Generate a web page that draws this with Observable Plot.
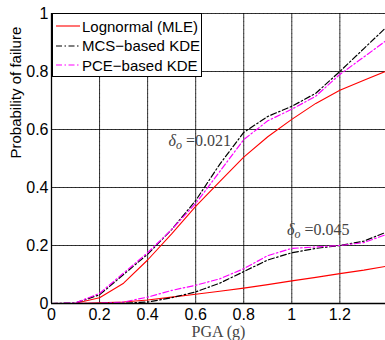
<!DOCTYPE html>
<html><head><meta charset="utf-8">
<script src="https://cdn.jsdelivr.net/npm/d3@7"></script>
<script src="https://cdn.jsdelivr.net/npm/@observablehq/plot@0.6"></script>
<style>
body{margin:0;background:#fff;}
#wrap{position:relative;width:385px;height:340px;}
#legend{position:absolute;left:52px;top:13px;width:150px;height:64px;border:1.4px solid #000;background:#fff;box-sizing:border-box;font:15px "Liberation Sans",Arial,sans-serif;color:#000;}
#legend .row{position:absolute;left:3px;height:18px;display:flex;align-items:center;white-space:nowrap;}
#legend svg{margin-right:2px;}
</style></head>
<body><div id="wrap"><div id="chart"></div><div id="legend"></div></div>
<script>
const pga = [0, 0.1, 0.2, 0.3, 0.4, 0.5, 0.6, 0.7, 0.8, 0.9, 1.0, 1.1, 1.2, 1.3, 1.39];
// delta_o = 0.021
const lognormalA = [0, 0.001, 0.02, 0.07, 0.15, 0.24, 0.335, 0.42, 0.505, 0.575, 0.635, 0.69, 0.735, 0.77, 0.80];
const mcsA = [0, 0.002, 0.03, 0.10, 0.17, 0.255, 0.355, 0.48, 0.59, 0.645, 0.68, 0.725, 0.80, 0.879, 0.95];
const pceA = [0, 0.002, 0.035, 0.105, 0.175, 0.255, 0.345, 0.455, 0.565, 0.63, 0.67, 0.715, 0.79, 0.85, 0.905];
// delta_o = 0.045
const lognormalB = [0, 0, 0.002, 0.005, 0.012, 0.022, 0.032, 0.042, 0.053, 0.065, 0.078, 0.09, 0.103, 0.115, 0.128];
const mcsB = [0, 0, 0, 0.001, 0.005, 0.02, 0.04, 0.07, 0.11, 0.15, 0.175, 0.19, 0.2, 0.215, 0.245];
const pceB = [0, 0, 0.001, 0.005, 0.022, 0.045, 0.063, 0.085, 0.12, 0.165, 0.19, 0.195, 0.2, 0.21, 0.237];
const seriesNames = ["Lognormal (MLE)", "MCS\u2212based KDE", "PCE\u2212based KDE"];
const xTicks = [0, 0.2, 0.4, 0.6, 0.8, 1, 1.2];
const yTicks = [0, 0.2, 0.4, 0.6, 0.8, 1];
const annotations = [{x: 0.617, y: 0.562, label: "0.021"}, {x: 1.11, y: 0.255, label: "0.045"}];

const styles = [
  {stroke: "#ff0000", dash: null, width: 1.1},
  {stroke: "#000000", dash: "6,2.5,1.5,2.5", width: 1.2},
  {stroke: "#ff00ff", dash: "6,2.5,1.5,2.5", width: 1.2}
];
const groups = [[lognormalA, mcsA, pceA], [lognormalB, mcsB, pceB]];
const lineMarks = [];
groups.forEach(g => g.forEach((vals, i) => {
  const data = pga.map((x, k) => ({x, y: vals[k]}));
  lineMarks.push(Plot.line(data, {x: "x", y: "y", stroke: styles[i].stroke, strokeWidth: styles[i].width, strokeDasharray: styles[i].dash, clip: true}));
}));

const fmt = d => String(d);
const chart = Plot.plot({
  width: 385, height: 340,
  marginLeft: 51, marginRight: 0, marginTop: 13, marginBottom: 37,
  style: {fontFamily: "'Liberation Sans', Arial, sans-serif", fontSize: "16px", color: "#000", background: "#fff"},
  x: {domain: [0, 1.39]},
  y: {domain: [0, 1]},
  marks: [
    Plot.gridX(xTicks, {stroke: "#888", strokeOpacity: 1, strokeWidth: 0.7, strokeDasharray: "1,3"}),
    Plot.gridY(yTicks, {stroke: "#888", strokeOpacity: 1, strokeWidth: 0.7, strokeDasharray: "1,3"}),
    Plot.axisX(xTicks, {tickSize: 0, tickPadding: 5, fontSize: 16, label: null, tickFormat: fmt}),
    Plot.axisY(yTicks, {tickSize: 0, tickPadding: 3, fontSize: 16, label: null, tickFormat: fmt}),
    Plot.tickX(xTicks, {x: d => d, y1: 0, y2: 0.012, stroke: "#000", strokeWidth: 0.8}),
    Plot.tickY(yTicks, {y: d => d, x1: 0, x2: 0.017, stroke: "#000", strokeWidth: 0.8}),
    ...lineMarks,
    Plot.ruleX([0], {stroke: "#000", strokeWidth: 1.3}),
    Plot.ruleY([0], {stroke: "#000", strokeWidth: 1.3}),
    Plot.text(annotations, {x: "x", y: "y", text: d => "d=" + d.label, className: "annot", fontSize: 16, fill: "#444"}),
    Plot.text(["PGA (g)"], {frameAnchor: "bottom", lineAnchor: "middle", dy: 28, className: "xlab", fontSize: 16, fill: "#444"}),
    Plot.text(["Probability of failure"], {frameAnchor: "left", dx: -35, rotate: -90, fontSize: 15, fill: "#000"})
  ]
});
document.getElementById("chart").appendChild(chart);

const serif = "'Liberation Serif','Times New Roman',serif";
d3.select(chart).selectAll("g.xlab text").attr("font-family", serif);
d3.select(chart).selectAll("g.annot text").each(function(d, i) {
  const t = d3.select(this);
  const lab = annotations[i] ? annotations[i].label : "";
  t.text(null).attr("font-family", serif);
  t.append("tspan").attr("font-style", "italic").text("\u03b4");
  t.append("tspan").attr("font-style", "italic").attr("font-size", 12).attr("dy", 3).text("o");
  t.append("tspan").attr("dy", -3).text(" =" + lab);
});

const legend = document.getElementById("legend");
seriesNames.forEach((name, i) => {
  const row = document.createElement("div");
  row.className = "row";
  row.style.top = (3 + i * 19.5) + "px";
  const s = styles[i];
  row.innerHTML = `<svg width="24" height="10"><line x1="0" y1="5" x2="24" y2="5" stroke="${s.stroke}" stroke-width="${s.width}" ${s.dash ? `stroke-dasharray="${s.dash}"` : ""}/></svg><span>${name}</span>`;
  legend.appendChild(row);
});
</script></body></html>
